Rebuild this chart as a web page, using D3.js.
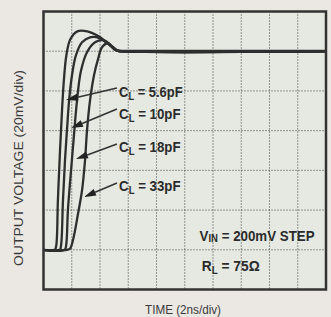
<!DOCTYPE html>
<html>
<head>
<meta charset="utf-8">
<script src="https://cdn.jsdelivr.net/npm/d3@7"></script>
<style>
  body { margin: 0; background: #ebe8e3; }
  svg { display: block; }
  .lbl { font-family: "Liberation Sans", Arial, sans-serif; font-weight: bold; fill: #2b2b2b; }
  .ttl { font-family: "Liberation Sans", Arial, sans-serif; fill: #3a3a3a; }
</style>
</head>
<body>
<svg id="chart"></svg>
<script>
// time in ns (2ns/div), output in mV (20mV/div)
var xTicks = [0, 2, 4, 6, 8, 10, 12, 14, 16, 18, 20];
var yTicks = [-20, 0, 20, 40, 60, 80, 100, 120];

var cap56 = [[0, 0], [0.8, 0], [0.9, 2], [1.02, 25], [1.17, 50], [1.31, 70], [1.45, 86], [1.62, 98], [1.9, 106], [2.4, 110], [3.1, 110], [3.9, 107.5], [4.7, 103], [5.13, 100.5], [5.6, 100], [20, 100]];
var cap10 = [[0, 0], [1.15, 0], [1.24, 2], [1.38, 25], [1.52, 45], [1.66, 60], [1.81, 75], [2.02, 88], [2.30, 98], [2.73, 104.5], [3.29, 107], [4.0, 106.5], [4.71, 103], [5.13, 100.5], [5.6, 100], [20, 100]];
var cap18 = [[0, 0], [1.5, 0], [1.6, 2], [1.73, 20], [1.95, 40], [2.16, 58], [2.37, 75], [2.65, 90], [3.08, 99.5], [3.65, 104.5], [4.28, 105.5], [4.85, 102.5], [5.2, 100.5], [5.6, 100], [20, 100]];
var cap33 = [[0, 0], [1.66, 0], [1.87, 0.5], [2.09, 5], [2.44, 18], [2.73, 30], [2.94, 45], [3.08, 60], [3.29, 75], [3.58, 88], [3.86, 96], [4.14, 102], [4.57, 104], [4.92, 102], [5.2, 100.5], [5.6, 100], [20, 100]];

var curves = [cap56, cap10, cap18, cap33];

// labels: value text, arrow tip [t, mV], leader start [t, mV], text baseline [t, mV]
var capNames = ['5.6pF', '10pF', '18pF', '33pF'];
var capWidths = [64, 62, 62, 62];
var tips = [[1.59, 75.4], [1.95, 61.3], [2.30, 45.7], [2.87, 26.6]];
var starts = [[5.2, 81.5], [5.2, 70.9], [5.2, 53.3], [5.2, 33.6]];
var textPos = [[5.35, 77.0], [5.35, 66.0], [5.35, 49.3], [5.35, 29.6]];

var margin = { top: 11.5, left: 43.5, bottom: 27.5, right: 5 },
    width = 331 - margin.left - margin.right,
    height = 317 - margin.top - margin.bottom;

var root = d3.select('#chart')
    .attr('width', 331)
    .attr('height', 317);

var svg = root.append('g')
    .attr('transform', 'translate(' + margin.left + ',' + margin.top + ')');

var x = d3.scaleLinear().domain([0, 20]).range([0, width]);
var y = d3.scaleLinear().domain([-20, 120]).range([height, 0]);

// squeeze a label horizontally so it fills the given width
function fitText(g, px, py, target) {
    var w = g.node().getBBox().width;
    g.attr('transform', 'translate(' + px + ',' + py + ') scale(' + (target / w) + ',1)');
}

function subLabel(main, sub, rest, px, py, target, dy) {
    var g = svg.append('g');
    var t = g.append('text')
        .attr('class', 'lbl')
        .style('font-size', '14px');
    t.append('tspan').text(main);
    t.append('tspan').text(sub).attr('dy', dy).style('font-size', '10px');
    t.append('tspan').text(rest).attr('dy', -dy);
    fitText(g, px, py, target);
}

// plot background
svg.append('rect')
    .attr('width', width)
    .attr('height', height)
    .attr('fill', '#e5e9e2');

// dotted graticule
svg.selectAll('.vgrid')
    .data(xTicks.slice(1, -1))
    .enter().append('line')
    .attr('class', 'vgrid')
    .attr('x1', d => x(d)).attr('x2', d => x(d))
    .attr('y1', 0).attr('y2', height)
    .attr('stroke', '#3a3a3a')
    .attr('stroke-width', 1)
    .attr('stroke-dasharray', '1,2');

svg.selectAll('.hgrid')
    .data(yTicks.slice(1, -1))
    .enter().append('line')
    .attr('class', 'hgrid')
    .attr('x1', 0).attr('x2', width)
    .attr('y1', d => y(d)).attr('y2', d => y(d))
    .attr('stroke', '#3a3a3a')
    .attr('stroke-width', 1)
    .attr('stroke-dasharray', '1,2');

// traces
var line = d3.line()
    .x(d => x(d[0]))
    .y(d => y(d[1]))
    .curve(d3.curveCatmullRom.alpha(0.5));

svg.selectAll('.trace')
    .data(curves)
    .enter().append('path')
    .attr('class', 'trace')
    .attr('d', line)
    .attr('fill', 'none')
    .attr('stroke', '#2e2e2e')
    .attr('stroke-width', 2.3)
    .attr('stroke-linejoin', 'round');

// settled level drawn a bit heavier
svg.append('line')
    .attr('x1', x(5.3)).attr('x2', width)
    .attr('y1', y(100)).attr('y2', y(100))
    .attr('stroke', '#2e2e2e')
    .attr('stroke-width', 3);

// frame
svg.append('rect')
    .attr('width', width)
    .attr('height', height)
    .attr('fill', 'none')
    .attr('stroke', '#333')
    .attr('stroke-width', 2.5);

// leader lines with arrow heads
capNames.forEach(function (name, i) {
    var x0 = x(starts[i][0]), y0 = y(starts[i][1]);
    var x1 = x(tips[i][0]), y1 = y(tips[i][1]);
    var ang = Math.atan2(y1 - y0, x1 - x0);
    var len = 12, half = 3.6;
    var bx = x1 - len * Math.cos(ang), by = y1 - len * Math.sin(ang);
    var px = -Math.sin(ang) * half, py = Math.cos(ang) * half;

    svg.append('line')
        .attr('x1', x0).attr('y1', y0)
        .attr('x2', bx).attr('y2', by)
        .attr('stroke', '#333')
        .attr('stroke-width', 1.6);

    svg.append('path')
        .attr('d', 'M' + x1 + ',' + y1 + 'L' + (bx + px) + ',' + (by + py) + 'L' + (bx - px) + ',' + (by - py) + 'Z')
        .attr('fill', '#222');

    subLabel('C', 'L', ' = ' + name, x(textPos[i][0]), y(textPos[i][1]), capWidths[i], 3);
});

// conditions
subLabel('V', 'IN', ' = 200mV STEP', x(11.05), y(4.5), 115, 1);
subLabel('R', 'L', ' = 75\u03A9', x(11.2), y(-10.5), 58, 3);

// axis titles
root.append('text')
    .attr('class', 'ttl')
    .attr('transform', 'translate(23,168) rotate(-90)')
    .attr('text-anchor', 'middle')
    .attr('textLength', 196)
    .attr('lengthAdjust', 'spacingAndGlyphs')
    .style('font-size', '13px')
    .text('OUTPUT VOLTAGE (20mV/div)');

root.append('text')
    .attr('class', 'ttl')
    .attr('x', 183)
    .attr('y', 314)
    .attr('text-anchor', 'middle')
    .attr('textLength', 76)
    .attr('lengthAdjust', 'spacingAndGlyphs')
    .style('font-size', '13px')
    .text('TIME (2ns/div)');
</script>
</body>
</html>
